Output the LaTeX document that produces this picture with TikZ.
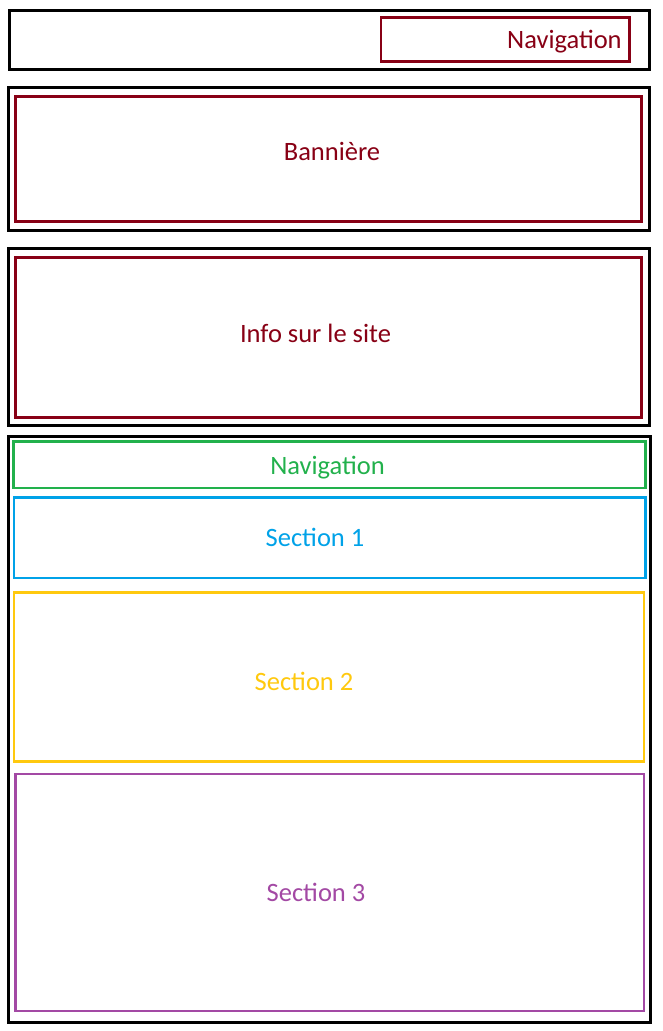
\documentclass[tikz,border=0pt]{standalone}
\usepackage{fontspec}
\setmainfont{Carlito}
\definecolor{pdarkred}{RGB}{136,0,21}
\definecolor{pgreen}{RGB}{34,177,76}
\definecolor{pblue}{RGB}{0,162,232}
\definecolor{pgold}{RGB}{255,201,14}
\definecolor{ppurple}{RGB}{163,73,164}
\begin{document}
\begin{tikzpicture}[x=1pt,y=-1pt,
  outerbox/.style={draw=black,line width=3pt},
  innerbox/.style={line width=2.9pt},
  lbl/.style={anchor=base,inner sep=0pt,font=\fontsize{26.5}{31}\selectfont}]
\useasboundingbox[fill=white] (0,0) rectangle (662,1031);
% header
\draw[outerbox] (9.3,10.7) rectangle (649.3,69.3);
\draw[innerbox,draw=pdarkred] (381,17.5) rectangle (629.3,61.3);
\node[lbl,text=pdarkred] (nav1) at (564.4,48) {Navigation};
% banner
\draw[outerbox] (8.7,87.3) rectangle (649.3,230);
\draw[innerbox,draw=pdarkred] (15.3,96.7) rectangle (641.3,221.3);
\node[lbl,text=pdarkred] (ban) at (332,160) {Bannière};
% info
\draw[outerbox] (8.7,248.7) rectangle (649.3,425.3);
\draw[innerbox,draw=pdarkred] (15.3,257.3) rectangle (641.3,417.3);
\node[lbl,text=pdarkred] (info) at (315.5,342) {Info sur le site};
% main
\draw[outerbox] (8,436) rectangle (650,1022.3);
\draw[innerbox,draw=pgreen] (13.3,441.3) rectangle (645.3,488);
\node[lbl,text=pgreen] (nav2) at (327.5,474) {Navigation};
\draw[innerbox,draw=pblue] (14,497.3) rectangle (645.3,578);
\node[lbl,text=pblue] (s1) at (315,546) {Section 1};
\draw[innerbox,draw=pgold] (14,592.7) rectangle (644,761.3);
\node[lbl,text=pgold] (s2) at (304,690) {Section 2};
\draw[innerbox,draw=ppurple] (15.3,774) rectangle (644,1011);
\node[lbl,text=ppurple] (s3) at (316,901) {Section 3};
\end{tikzpicture}
\end{document}
